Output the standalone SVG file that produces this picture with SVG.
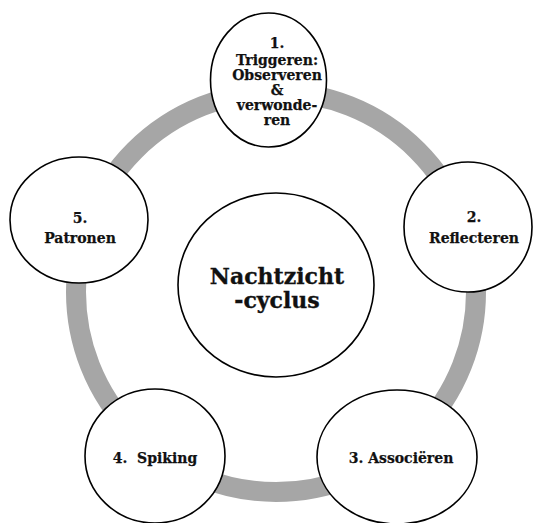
<svg xmlns="http://www.w3.org/2000/svg" width="534" height="523" viewBox="0 0 534 523">
<style>
.node{fill:#fff;stroke:#000;stroke-width:1.6}
.t{font-family:"DejaVu Serif","Liberation Serif",serif;font-weight:bold;font-size:14px;fill:#111;stroke:#111;stroke-width:0.25;text-anchor:middle}
.big{font-size:22px;stroke-width:0.35}
</style>
<rect width="534" height="523" fill="#fff"/>
<g id="connectors">
<circle cx="276" cy="292" r="200" fill="none" stroke="#a6a6a6" stroke-width="20"/>
</g>
<g id="center">
<ellipse class="node" cx="276" cy="285" rx="98" ry="92"/>
<text class="t big" x="277" y="284">Nachtzicht</text>
<text class="t big" x="277" y="308">-cyclus</text>
</g>
<g id="node1">
<ellipse class="node" cx="268.5" cy="80" rx="58" ry="67"/>
<text class="t" x="277" y="48">1.</text>
<text class="t" x="277" y="65">Triggeren:</text>
<text class="t" x="277" y="80">Observeren</text>
<text class="t" x="277" y="95">&amp;</text>
<text class="t" x="277" y="110">verwonde-</text>
<text class="t" x="277" y="125">ren</text>
</g>
<g id="node2">
<ellipse class="node" cx="468" cy="227" rx="64" ry="65"/>
<text class="t" x="474" y="222">2.</text>
<text class="t" x="474" y="243">Reflecteren</text>
</g>
<g id="node3">
<ellipse class="node" cx="397" cy="457" rx="80" ry="67"/>
<text class="t" x="401" y="463">3. Associëren</text>
</g>
<g id="node4">
<ellipse class="node" cx="155" cy="456" rx="70" ry="67"/>
<text class="t" x="155" y="463" xml:space="preserve">4.  Spiking</text>
</g>
<g id="node5">
<ellipse class="node" cx="79" cy="220" rx="69" ry="63"/>
<text class="t" x="80" y="223">5.</text>
<text class="t" x="80" y="243">Patronen</text>
</g>
</svg>
